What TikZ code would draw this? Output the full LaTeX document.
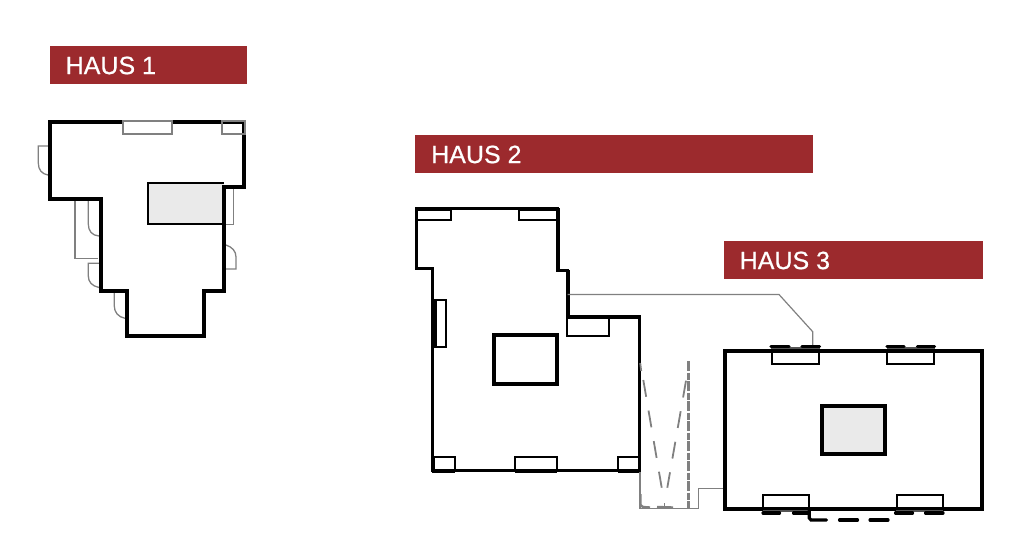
\documentclass[tikz,border=0pt]{standalone}
\usepackage{fontspec}
\setmainfont[FakeBold=0.6]{Liberation Sans}
\definecolor{banner}{HTML}{9C2A2D}
\definecolor{coregray}{HTML}{EAEAEA}
\definecolor{thin}{HTML}{808080}
\definecolor{midgray}{HTML}{555555}
\tikzset{
  wall/.style={draw=black,line width=3.8pt,line join=miter},
  wallthin/.style={draw=black,line width=3pt,line join=miter},
  win/.style={draw=black,line width=1.8pt},
  winlight/.style={draw=thin,line width=1.6pt},
  door/.style={draw=thin,line width=1.3pt},
  pipe/.style={draw=thin,line width=1.2pt},
  corethick/.style={draw=black,line width=3.8pt},
  bar/.style={draw=black,line width=3.2pt,line cap=round},
  sill/.style={draw=midgray,line width=2.6pt},
  heavy/.style={draw=black,line width=4pt},
  gdash/.style={draw=thin,line width=1.8pt,dash pattern=on 17pt off 14pt},
  gdashb/.style={draw=thin,line width=3pt,dash pattern=on 10pt off 1.5pt on 7pt off 1.5pt},
  title/.style={text=white,font=\fontsize{25}{27}\selectfont,anchor=west,inner sep=0pt}
}
\begin{document}
\begin{tikzpicture}[x=1pt,y=-1pt]
\useasboundingbox (0,0) rectangle (1024,557);
% banners
\fill[banner] (49.5,46) rectangle (246.5,84);
\fill[banner] (415,135) rectangle (813,173);
\fill[banner] (723.5,241) rectangle (983,279);
\node[title] (t1) at (65.5,65.5) {HAUS 1};
\node[title] (t2) at (431,154.5) {HAUS 2};
\node[title] (t3) at (739.5,260.5) {HAUS 3};
% HAUS 1
\draw[door] (48,146) -- (38.3,146) -- (38.3,163) .. controls (38.3,170) and (42,174) .. (48,175);
\draw[door] (75,201) -- (75,258.3) -- (98,258.3);
\draw[door] (88.3,201) -- (88.3,224) .. controls (88.3,231) and (92,235.5) .. (99,236);
\draw[door] (99,263.3) -- (88.3,263.3) -- (88.3,276) .. controls (88.3,282) and (92,286) .. (99,287.5);
\draw[door] (114.3,292) -- (114.3,306) .. controls (114.3,312) and (118,317) .. (125,318.3);
\draw[door] (224,187) -- (233.3,187) -- (233.3,224.3) -- (224,224.3);
\draw[door] (226,245) .. controls (232,247) and (236,251) .. (236,257) -- (236,269) -- (225,269);
\fill[coregray] (148,182.7) rectangle (224,224.3);
\draw[wall] (50.3,121.7) -- (244,121.7) -- (244,187.3) -- (224,187.3) -- (224,291.3) -- (204.3,291.3) -- (204.3,336) -- (126.7,336) -- (126.7,291.3) -- (100.7,291.3) -- (100.7,199.3) -- (50.3,199.3) -- cycle;
\draw[draw=black,line width=1.9pt] (224,224.3) -- (148,224.3) -- (148,182.7) -- (224,182.7);
\draw[winlight,fill=white] (123,121) rectangle (172,133.7);
\draw[winlight] (222,121) rectangle (245,133.7);
% HAUS 2
\draw[wallthin] (416,208.3) -- (557.7,208.3) -- (557.7,270) -- (567.7,270) -- (567.7,316.7) -- (639.3,316.7) -- (639.3,470.7) -- (432.7,470.7) -- (432.7,268.3) -- (416,268.3) -- cycle;
\draw[heavy] (416,208.5) -- (450.7,208.5);
\draw[heavy] (519,208.5) -- (557.7,208.5);
\draw[heavy] (558,208) -- (558,270);
\draw[heavy] (568,270) -- (568,317);
\draw[heavy] (567,317) -- (640,317);
\draw[heavy] (433,458) -- (433,472);
\draw[heavy] (432,471) -- (455,471);
\draw[heavy] (514.7,471) -- (557.3,471);
\draw[heavy] (617.7,471) -- (641,471);
\draw[heavy] (434.5,300) -- (434.5,347);
\draw[win] (416,208.3) rectangle (450.7,220.3);
\draw[win] (519,208.3) rectangle (557.7,220.3);
\draw[win] (433.3,300.3) rectangle (446,346.7);
\draw[win] (567,316.7) rectangle (608.7,335.7);
\draw[win] (433,457.3) rectangle (454.7,470.7);
\draw[win] (514.7,457.3) rectangle (557.3,470.7);
\draw[win] (617.7,457.3) rectangle (639.3,470.7);
\draw[corethick] (494.3,335.3) rectangle (557.3,383.7);
% connectors and dashed cover
\draw[pipe] (567.7,294.5) -- (779,294.5) -- (812.7,331.7) -- (812.7,346);
\draw[pipe] (640,472) -- (640,508.3) -- (698.3,508.3) -- (698.3,488.3) -- (724,488.3);
\draw[draw=thin,line width=1.8pt] (640.2,363) -- (641.2,371);
\draw[gdash] (643.3,380) -- (661.7,487.7);
\draw[gdash] (686,380.7) -- (667.3,487.7);
\draw[gdashb] (688.7,361) -- (688.7,508);
\draw[draw=thin,line width=2.4pt] (640.5,494) -- (640.5,505) -- (643,507) -- (650,507.5);
\draw[draw=thin,line width=2.4pt] (657,507) -- (673,507.5);
\draw[draw=thin,line width=1.8pt] (664.5,503) -- (664.5,507);
% HAUS 3
\fill[coregray] (822,406) rectangle (885,454);
\draw[wall] (725,350.7) rectangle (981.7,508.7);
\draw[corethick] (822,406) rectangle (885,454);
\draw[win] (772,350) rectangle (818.7,364.3);
\draw[win] (887.3,350) rectangle (934,364.3);
\draw[win] (763.3,495.3) rectangle (809.3,508.7);
\draw[win] (896.7,495.3) rectangle (942.7,508.7);
\draw[sill] (771,348) -- (820,348);
\draw[sill] (887,348) -- (935,348);
\draw[sill] (763,511) -- (809,511);
\draw[sill] (896,511) -- (943,511);
\draw[bar] (771,346.4) -- (789,346.4);
\draw[bar] (802,346.4) -- (819.5,346.4);
\draw[bar] (887,346.4) -- (904,346.4);
\draw[bar] (917.5,346.4) -- (934.5,346.4);
\draw[bar] (763,513) -- (779.5,513);
\draw[bar] (793.5,513) -- (809,513);
\draw[bar] (895.5,513) -- (912.5,513);
\draw[bar] (925.5,513) -- (943,513);
\draw[bar] (809.3,510) -- (809.3,518) -- (811,520) -- (826.5,520);
\draw[bar] (839.5,520) -- (857.5,520);
\draw[bar] (870,520) -- (888,520);
\end{tikzpicture}
\end{document}
